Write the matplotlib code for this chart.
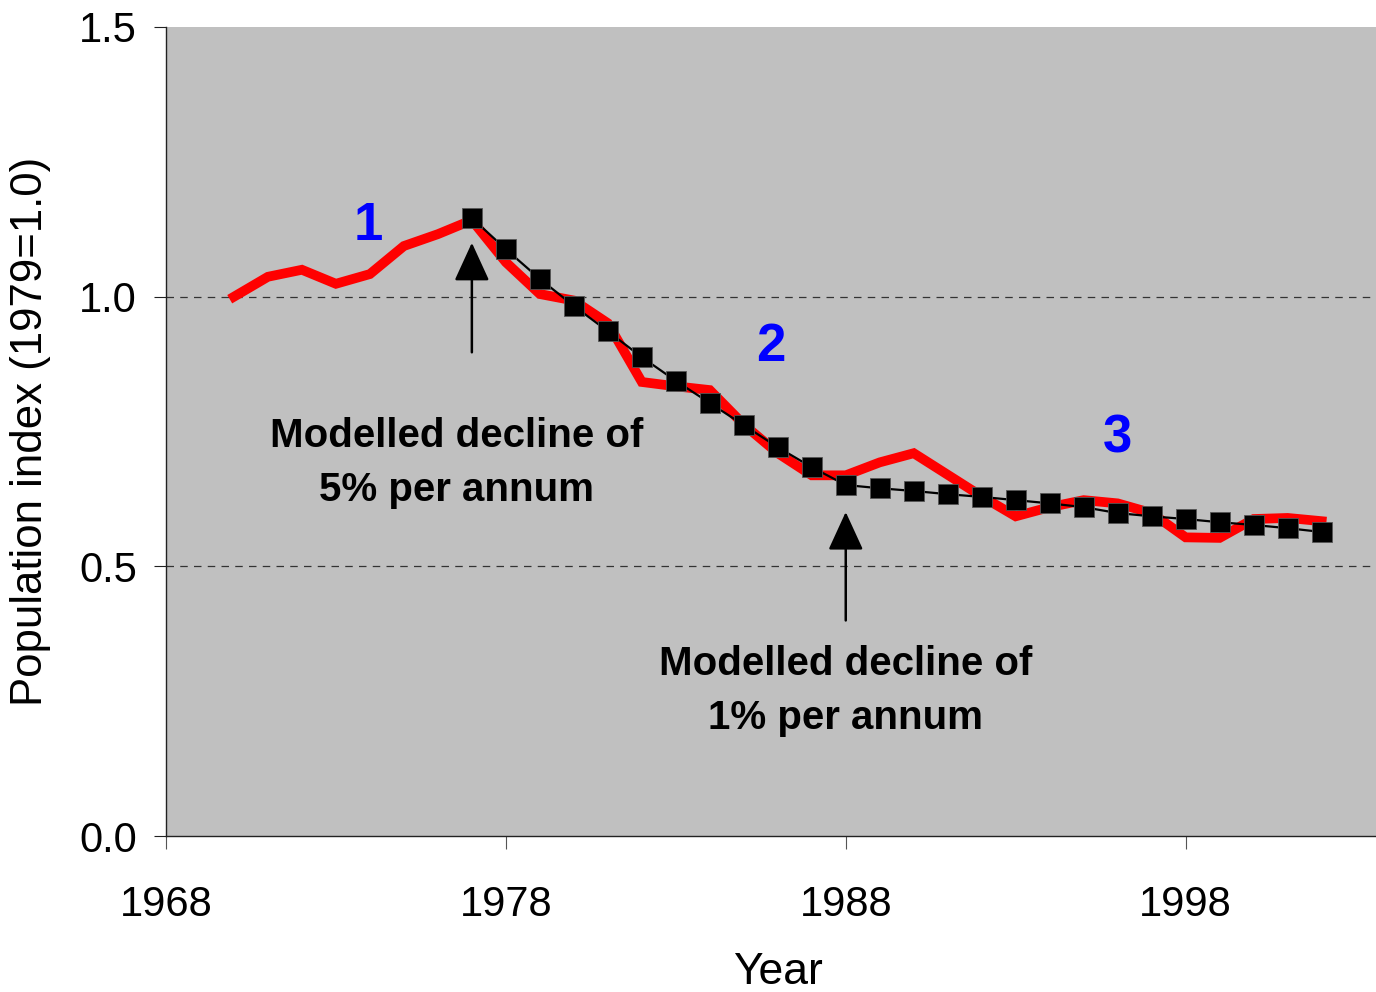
import matplotlib
matplotlib.use("Agg")
import matplotlib.pyplot as plt

plt.rcParams['font.family'] = ['Liberation Sans', 'DejaVu Sans']

# observed index (red)
obs_years = list(range(1970, 2003))
obs_index = [1.00, 1.037, 1.050, 1.024, 1.042, 1.094, 1.116, 1.142,
             1.064, 1.005, 0.993, 0.951, 0.842, 0.834, 0.827, 0.763,
             0.710, 0.669, 0.669, 0.693, 0.710, 0.670, 0.630, 0.593,
             0.610, 0.623, 0.617, 0.599, 0.554, 0.553, 0.588, 0.590, 0.584]

# modelled index (black squares)
mod_years = list(range(1977, 2003))
mod_index = [1.146, 1.088, 1.033, 0.983, 0.936, 0.888, 0.844, 0.803,
             0.762, 0.721, 0.684, 0.651, 0.645, 0.640, 0.634, 0.629,
             0.623, 0.617, 0.610, 0.599, 0.593, 0.588, 0.582, 0.577,
             0.571, 0.564]

xticks = [1968, 1978, 1988, 1998]
yticks = [0.0, 0.5, 1.0, 1.5]

fig = plt.figure(figsize=(13.76, 9.92), dpi=100)
ax = fig.add_axes([0.1206, 0.157, 0.8794, 0.8158])
ax.set_facecolor('#C0C0C0')

for g in [0.5, 1.0]:
    ax.axhline(g, color='#333333', lw=0.9, ls=(0, (6, 5)), zorder=1)

ax.plot(obs_years, obs_index, color='#FF0000', lw=7, solid_joinstyle='miter', zorder=2)
ax.plot(mod_years, mod_index, color='black', lw=1.6, marker='s', ms=14.5,
        markeredgecolor='#555555', markeredgewidth=0.6, zorder=3)

ax.set_xlim(1968, 2003.6)
ax.set_ylim(0, 1.5)
ax.set_xticks(xticks)
ax.set_yticks(yticks)
ax.set_yticklabels(['%.1f' % v for v in yticks])

for s in ['top', 'right']:
    ax.spines[s].set_visible(False)
for s in ['left', 'bottom']:
    ax.spines[s].set_color('#222222')
    ax.spines[s].set_linewidth(1.0)

ax.tick_params(axis='x', direction='out', length=9, width=0.8, pad=26, labelsize=30, color='#555555')
ax.tick_params(axis='y', direction='out', length=9, width=0.8, pad=12, labelsize=30, color='#222222')

ax.set_xlabel('Year', fontsize=32)
ax.xaxis.set_label_coords(0.506, -0.143)
ax.set_ylabel('Population index (1979=1.0)', fontsize=31.5, labelpad=20)

# phase numbers
for txt, x, y in [('1', 1973.95, 1.132), ('2', 1985.8, 0.906), ('3', 1996.0, 0.737)]:
    ax.text(x, y, txt, color='#0000FF', fontsize=38, fontweight='bold',
            ha='center', va='center')

# annotations
ax.text(1976.54, 0.692, 'Modelled decline of\n5% per annum', fontsize=29, fontweight='bold',
        ha='center', va='center', linespacing=1.55)
ax.text(1988.0, 0.269, 'Modelled decline of\n1% per annum', fontsize=29, fontweight='bold',
        ha='center', va='center', linespacing=1.55)

arrow = dict(arrowstyle='-|>,head_length=1.2,head_width=0.55', color='black', lw=1.8,
             mutation_scale=20, shrinkA=0, shrinkB=0)
ax.annotate('', xy=(1977, 1.10), xytext=(1977, 0.897), arrowprops=arrow)
ax.annotate('', xy=(1988, 0.601), xytext=(1988, 0.40), arrowprops=arrow)

fig.savefig('out.png', dpi=100)
